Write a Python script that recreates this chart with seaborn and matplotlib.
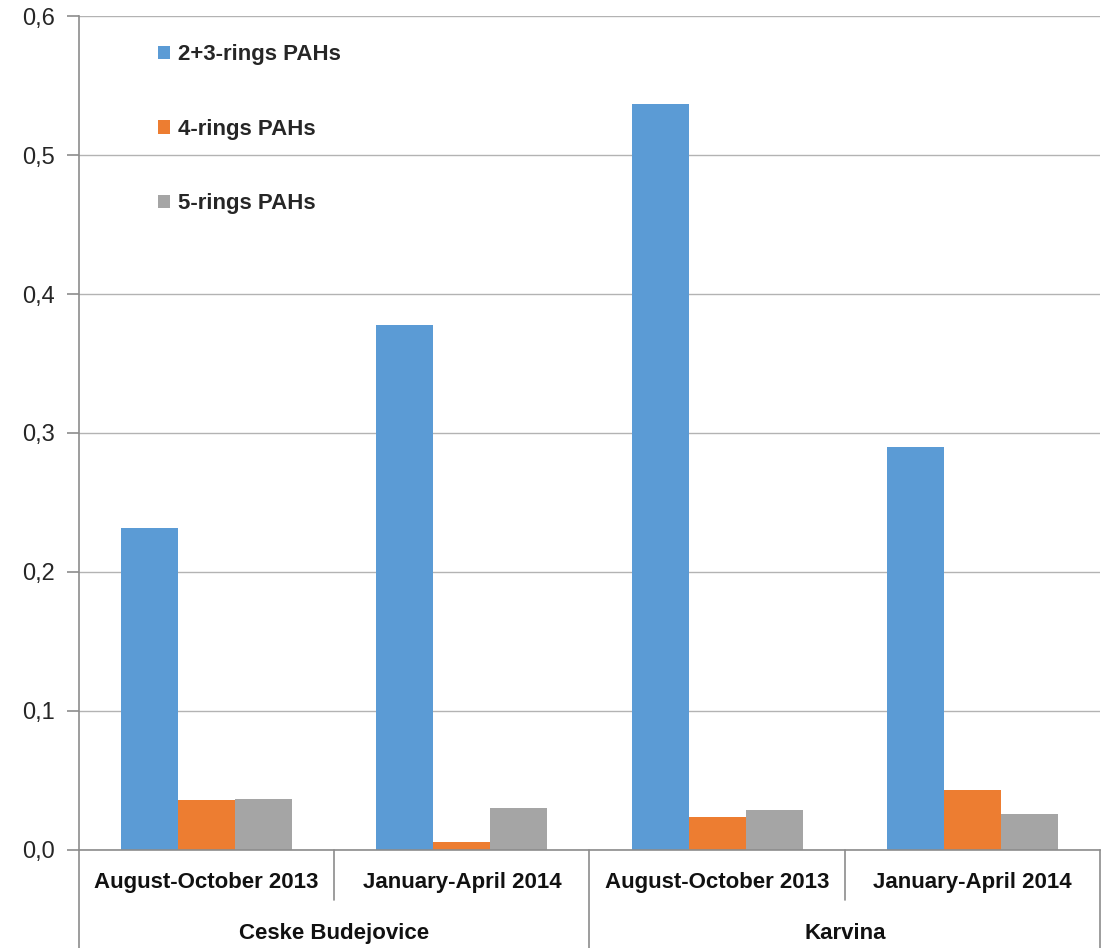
import matplotlib

matplotlib.use("Agg")
import matplotlib.pyplot as plt
import matplotlib.transforms as mtransforms
from matplotlib.ticker import FuncFormatter, MultipleLocator
import pandas as pd
import seaborn as sns

sites = ["Ceske Budejovice", "Karvina"]
periods = ["August-October 2013", "January-April 2014"]
series = ["2+3-rings PAHs", "4-rings PAHs", "5-rings PAHs"]
ring23 = [0.232, 0.378, 0.537, 0.290]
ring4 = [0.036, 0.006, 0.024, 0.043]
ring5 = [0.037, 0.030, 0.029, 0.026]
colors = ["#5B9BD5", "#ED7D31", "#A5A5A5"]

categories = [f"{s}|{p}" for s in sites for p in periods]
rows = []
for name, vals in zip(series, [ring23, ring4, ring5]):
    for cat, v in zip(categories, vals):
        rows.append({"category": cat, "series": name, "value": v})
df = pd.DataFrame(rows)

sns.set_style("white")
plt.rcParams["font.family"] = ["Liberation Sans Narrow", "Liberation Sans", "DejaVu Sans"]

fig = plt.figure(figsize=(11.09, 9.48), dpi=100)
ax = fig.add_axes([0.0712, 0.1034, 0.9207, 0.8797])

sns.barplot(data=df, x="category", y="value", hue="series", order=categories,
            hue_order=series, palette=colors, width=0.67, saturation=1,
            linewidth=0, ax=ax, legend=True)

ax.set_ylim(0, 0.6)
ax.set_xlim(-0.5, len(categories) - 0.5)
ax.yaxis.set_major_locator(MultipleLocator(0.1))
ax.yaxis.set_major_formatter(FuncFormatter(lambda v, _: f"{v:.1f}".replace(".", ",")))
ax.grid(axis="y", color="#b3b3b3", linewidth=1)
ax.set_axisbelow(True)
ax.tick_params(axis="y", left=True, length=9, width=1.2, color="#8c8c8c",
               labelsize=17, labelcolor="#262626", pad=8)
ax.set_xticks([])
ax.set_xlabel("")
ax.set_ylabel("")
for side in ["top", "right"]:
    ax.spines[side].set_visible(False)
for side in ["left", "bottom"]:
    ax.spines[side].set_color("#8c8c8c")
    ax.spines[side].set_linewidth(1.2)

# two-level category axis
trans = mtransforms.blended_transform_factory(ax.transData, ax.transAxes)
line_kw = dict(color="#8c8c8c", linewidth=1.2, clip_on=False, transform=trans)
for i, cat in enumerate(categories):
    site, period = cat.split("|")
    ax.text(i, -0.039, period, transform=trans, ha="center", va="center",
            fontsize=16, fontweight="bold", color="#111111")
for b in [0.5, 2.5]:
    ax.plot([b, b], [0, -0.06], **line_kw)
for b in [-0.5, 1.5, 3.5]:
    ax.plot([b, b], [0, -0.118], **line_kw)
for j, site in enumerate(sites):
    ax.text(2 * j + 0.5, -0.1, site, transform=trans, ha="center", va="center",
            fontsize=16, fontweight="bold", color="#111111")

leg = ax.legend(loc="upper left", bbox_to_anchor=(0.0578, 0.99), frameon=False,
                fontsize=16, handlelength=0.55, handleheight=0.55,
                handletextpad=0.36, labelspacing=2.41)
for t in leg.get_texts():
    t.set_fontweight("bold")

fig.savefig("out.png", dpi=100)
